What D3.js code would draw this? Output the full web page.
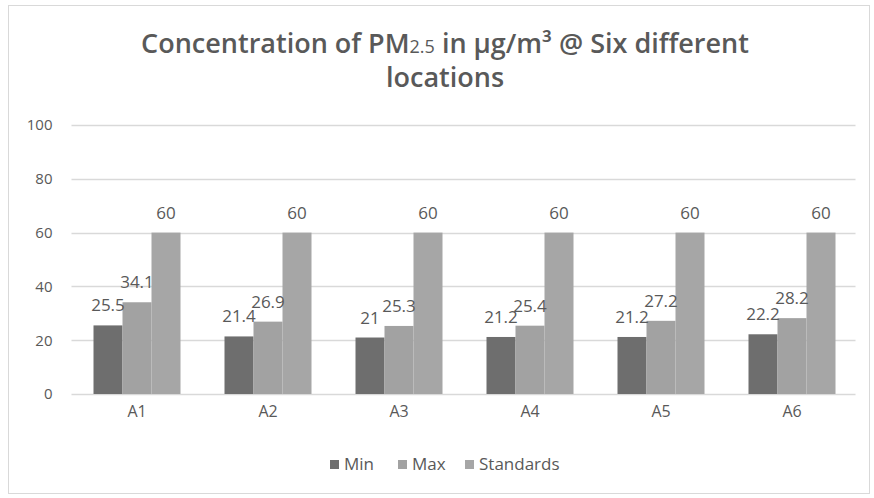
<!DOCTYPE html>
<html><head><meta charset="utf-8">
<script src="https://cdn.jsdelivr.net/npm/d3@7"></script>
<style>body{margin:0;background:#fff}</style>
</head><body><svg id="c" width="874" height="498"></svg>
<script>
const categories = ["A1","A2","A3","A4","A5","A6"];
const seriesNames = ["Min","Max","Standards"];
const minVals = [25.5,21.4,21,21.2,21.2,22.2];
const maxVals = [34.1,26.9,25.3,25.4,27.2,28.2];
const stdVals = [60,60,60,60,60,60];
const yTicks = [0,20,40,60,80,100];
const colors = ["#6e6e6e","#a2a2a2","#a6a6a6"];
const seriesVals = [minVals,maxVals,stdVals];

const svg = d3.select("#c");
const font = "'Open Sans', sans-serif";
svg.append("rect").attr("x",8.5).attr("y",5.5).attr("width",861).attr("height",488)
  .attr("fill","#fff").attr("stroke","#d9d9d9");

const L=71.5,R=857.5,T=125,B=394;
const y = d3.scaleLinear().domain([0,100]).range([B,T]);
const x0 = d3.scaleBand().domain(categories).range([L,R]).padding(0);
const gap = 22;
const x1 = d3.scaleBand().domain(seriesNames).range([gap, x0.bandwidth()-gap]);

// grid
svg.append("g").selectAll("line").data(yTicks).join("line")
  .attr("x1",L).attr("x2",R-2).attr("y1",d=>Math.round(y(d))+0.5).attr("y2",d=>Math.round(y(d))+0.5)
  .attr("stroke","#d9d9d9").attr("stroke-width",1.3);

// y axis labels
const ya = svg.append("g").attr("transform",`translate(${L-19},0)`)
  .call(d3.axisLeft(y).tickValues(yTicks).tickSize(0).tickPadding(0));
ya.select(".domain").remove();
ya.selectAll("text").attr("fill","#595959").style("font-size","15px").style("font-family",font);

// x axis labels
const xa = svg.append("g").attr("transform",`translate(0,${B+12})`)
  .call(d3.axisBottom(x0).tickSize(0).tickPadding(0));
xa.select(".domain").remove();
xa.selectAll("text").attr("fill","#595959").style("font-size","16px").style("font-family",font);

// bars
const groups = svg.append("g").selectAll("g").data(categories).join("g")
  .attr("transform",d=>`translate(${x0(d)},0)`);
seriesNames.forEach((s,si)=>{
  groups.append("rect")
    .attr("x",x1(s)).attr("width",x1.bandwidth())
    .attr("y",(d,i)=>y(seriesVals[si][i]))
    .attr("height",(d,i)=>B-y(seriesVals[si][i]))
    .attr("fill",colors[si]);
});
seriesNames.forEach((s,si)=>{
  groups.append("text")
    .attr("x",x1(s)+x1.bandwidth()/2)
    .attr("y",(d,i)=>y(seriesVals[si][i])-14)
    .attr("text-anchor","middle")
    .attr("fill","#595959").style("font-size","17px").style("font-family",font)
    .text((d,i)=>seriesVals[si][i]);
});

// title
const t = svg.append("text").attr("x",445).attr("y",53).attr("text-anchor","middle")
  .attr("fill","#595959").style("font-size","27px").style("font-weight","600").style("font-family",font);
t.append("tspan").text("Concentration of PM");
t.append("tspan").style("font-size","18px").style("font-weight","400").text("2.5");
t.append("tspan").text(" in µg/m³ @ Six different");
svg.append("text").attr("x",445).attr("y",87).attr("text-anchor","middle")
  .attr("fill","#595959").style("font-size","27px").style("font-weight","600").style("font-family",font)
  .text("locations");

// legend
const legX=[330,398,465];
const lg = svg.append("g").selectAll("g").data(seriesNames).join("g")
  .attr("transform",(d,i)=>`translate(${legX[i]},464)`);
lg.append("rect").attr("x",0).attr("y",-4).attr("width",9).attr("height",9).attr("fill",(d,i)=>colors[i]);
lg.append("text").attr("x",14).attr("y",6).attr("fill","#595959").style("font-size","17px").style("font-family",font).text(d=>d);
</script></body></html>
